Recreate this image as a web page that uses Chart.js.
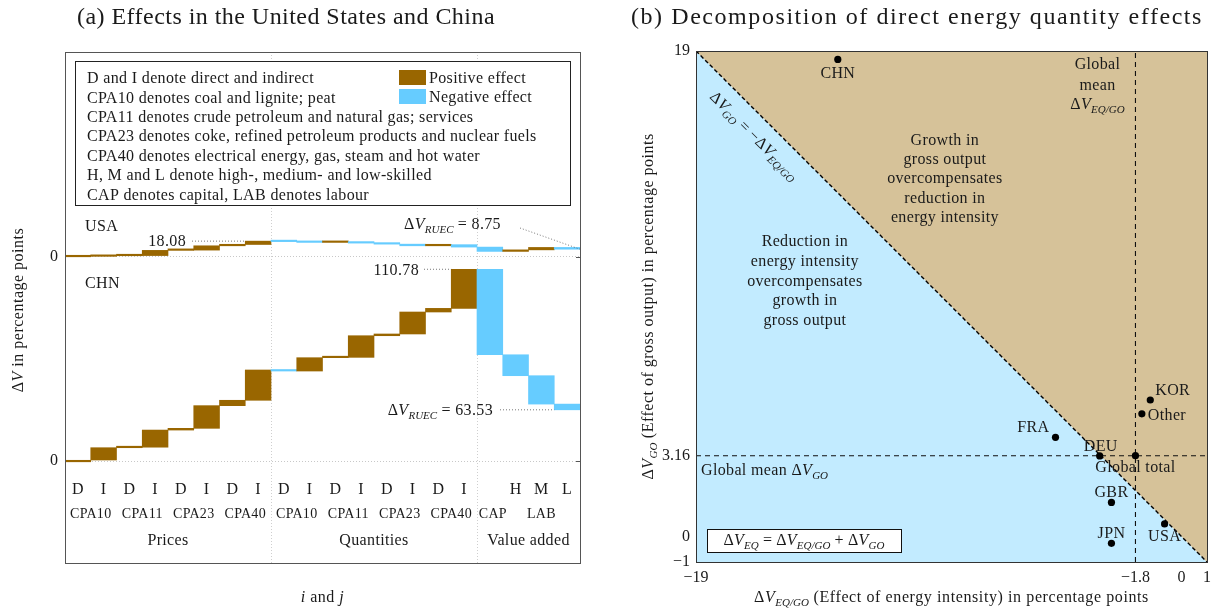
<!DOCTYPE html>
<html>
<head>
<meta charset="utf-8">
<script src="https://cdn.jsdelivr.net/npm/chart.js@4.4.0/dist/chart.umd.min.js"></script>
<style>
html,body{margin:0;padding:0;background:#fff;}
#wrap{position:relative;width:1229px;height:610px;}
#left{position:absolute;left:0;top:0;width:615px;height:610px;}
#right{position:absolute;left:615px;top:0;width:614px;height:610px;}
</style>
</head>
<body>
<div id="wrap">
  <div id="left"><canvas id="cLeft"></canvas></div>
  <div id="right"><canvas id="cRight"></canvas></div>
</div>
<script>
// ---- panel (a): waterfall data ----
const categories = ['D','I','D','I','D','I','D','I','D','I','D','I','D','I','D','I','CAP','H','M','L'];
const productLabels = ['CPA10','CPA11','CPA23','CPA40'];
const groupLabels = ['Prices','Quantities','Value added'];
// running level after each step (percentage points)
const usaLevels = [0.5,1.2,1.4,7.4,7.7,12.7,14.2,18.08,17.5,16.6,17.2,15.8,14.6,12.7,14.0,11.2,6.2,8.0,10.8,8.75];
const chnLevels = [0.6,7.7,8.0,17.9,18.9,32.0,35.1,52.6,52.0,59.7,59.9,72.4,73.4,86.1,88.2,110.78,61.4,49.3,32.9,29.6];
const usaRuec = 8.75;
const chnRuec = 63.53;
const noteLines = [
  'D and I denote direct and indirect',
  'CPA10 denotes coal and lignite; peat',
  'CPA11 denotes crude petroleum and natural gas; services',
  'CPA23 denotes coke, refined petroleum products and nuclear fuels',
  'CPA40 denotes electrical energy, gas, steam and hot water',
  'H, M and L denote high-, medium- and low-skilled',
  'CAP denotes capital, LAB denotes labour'
];

// ---- panel (b): scatter data ----
const countries = ['CHN','KOR','Other','FRA','DEU','Global total','GBR','USA','JPN'];
const energyIntensity = [-13.45,-1.22,-1.55,-4.93,-3.20,-1.8,-2.74,-0.66,-2.74];
const grossOutput = [18.67,5.34,4.80,3.88,3.15,3.16,1.33,0.49,-0.27];
const meanEqGo = -1.8;
const meanGo = 3.16;
const xTicks = [-19,-1.8,0,1];
const yTicks = [-1,0,3.16,19];

const serif = '"Liberation Serif","DejaVu Serif",serif';
const ink = '#1a1a1a';
const brown = '#996600';
const blue = '#66ccff';
const tan = 'rgb(214,194,153)';
const paleBlue = 'rgb(194,235,255)';

// USA strip sits above the CHN strip, drawn at half scale
const usaBase = 118;
const usaScale = 0.5;

function fontFor(k,size){
  if(k==='i') return 'italic '+size+'px '+serif;
  if(k==='s') return 'italic '+Math.round(size*0.7)+'px '+serif;
  return size+'px '+serif;
}
function richWidth(ctx,parts,size,ls){
  let w=0;
  for(const [t,k] of parts){
    ctx.font=fontFor(k,size); ctx.letterSpacing=(k==='s'?0:ls)+'px';
    w+=ctx.measureText(t).width;
  }
  return w;
}
// y is the vertical middle of the text
function drawRich(ctx,parts,x,y,align,size,ls){
  if(ls===undefined) ls=0.35;
  const w=richWidth(ctx,parts,size,ls);
  let cx = align==='center' ? x-w/2 : align==='right' ? x-w : x;
  const base = y+size*0.33;
  ctx.textAlign='left'; ctx.textBaseline='alphabetic'; ctx.fillStyle=ink;
  for(const [t,k] of parts){
    ctx.font=fontFor(k,size); ctx.letterSpacing=(k==='s'?0:ls)+'px';
    ctx.fillText(t,cx,k==='s'?base+size*0.22:base);
    cx+=ctx.measureText(t).width;
  }
  ctx.letterSpacing='0px';
  return w;
}
function plain(ctx,t,x,y,align,size,ls){ return drawRich(ctx,[[t,'n']],x,y,align,size,ls); }
// title text stretched to the width it takes in the original figure
function fitted(ctx,t,x,y,size,width){
  const nat=richWidth(ctx,[[t,'n']],size,0);
  return plain(ctx,t,x,y,'center',size,(width-nat)/t.length);
}
function dotted(ctx,x1,y1,x2,y2){
  ctx.save(); ctx.strokeStyle='#555'; ctx.lineWidth=0.8; ctx.setLineDash([1,2]);
  ctx.beginPath(); ctx.moveTo(x1,y1); ctx.lineTo(x2,y2); ctx.stroke(); ctx.restore();
}
function fmt(v){ return (v<0?'\u2212':'')+Math.abs(v); }

function floating(levels,base,k){
  return levels.map((v,i)=>{ const p=i?levels[i-1]:0; return [base+p*k, base+v*k]; });
}
function colours(levels){
  return levels.map((v,i)=> v >= (i?levels[i-1]:0) ? brown : blue);
}

const leftDecor = {
  id:'leftDecor',
  afterDraw(chart){
    const ctx=chart.ctx, a=chart.chartArea, x=chart.scales.x, y=chart.scales.y;
    const bw=(a.right-a.left)/categories.length;
    ctx.save();
    // frame + right-hand ticks
    ctx.strokeStyle='#555'; ctx.lineWidth=1;
    ctx.strokeRect(a.left+0.5,a.top+0.5,a.right-a.left,a.bottom-a.top);
    for(const v of [0,usaBase]){
      const py=Math.round(y.getPixelForValue(v))+0.5;
      ctx.beginPath(); ctx.moveTo(a.right-4,py); ctx.lineTo(a.right,py); ctx.stroke();
    }
    // title
    fitted(ctx,'(a) Effects in the United States and China',286,16,24,418);
    // axis titles
    ctx.save(); ctx.translate(18,310); ctx.rotate(-Math.PI/2);
    drawRich(ctx,[['\u0394','n'],['V','i'],[' in percentage points','n']],0,0,'center',16,0.5);
    ctx.restore();
    drawRich(ctx,[['i','i'],[' and ','n'],['j','i']],(a.left+a.right)/2,597,'center',16,0.5);
    // notes box
    ctx.fillStyle='#fff'; ctx.fillRect(75,61,495,144);
    ctx.strokeStyle='#222'; ctx.strokeRect(75.5,61.5,495,144);
    noteLines.forEach((t,i)=>plain(ctx,t,87,78+i*19.4,'left',16));
    ctx.fillStyle=brown; ctx.fillRect(399,70,27,15);
    ctx.fillStyle=blue; ctx.fillRect(399,89,27,15);
    plain(ctx,'Positive effect',429,78,'left',16);
    plain(ctx,'Negative effect',429,97,'left',16);
    // country names
    plain(ctx,'USA',85,226,'left',16);
    plain(ctx,'CHN',85,283,'left',16);
    // level call-outs
    const uPeak=y.getPixelForValue(usaBase+usaLevels[7]*usaScale);
    plain(ctx,String(usaLevels[7]),186,uPeak,'right',16);
    dotted(ctx,192,uPeak,x.getPixelForValue(7)-bw/2,uPeak);
    const uEnd=y.getPixelForValue(usaBase+usaLevels[19]*usaScale);
    drawRich(ctx,[['\u0394','n'],['V','i'],['RUEC','s'],[' = '+usaRuec,'n']],404,224,'left',16);
    dotted(ctx,520,228,a.right,uEnd);
    const cPeak=y.getPixelForValue(chnLevels[15]);
    plain(ctx,String(chnLevels[15]),419,cPeak,'right',16);
    dotted(ctx,424,cPeak,x.getPixelForValue(15)-bw/2,cPeak);
    const cEnd=y.getPixelForValue(chnLevels[19]);
    drawRich(ctx,[['\u0394','n'],['V','i'],['RUEC','s'],[' = '+chnRuec,'n']],493,cEnd,'right',16);
    dotted(ctx,500,cEnd,x.getPixelForValue(19)-bw/2,cEnd);
    // category labels inside the frame
    categories.forEach((c,i)=>{
      if(c==='CAP') return;
      plain(ctx,c,x.getPixelForValue(i),489,'center',16);
    });
    for(let g=0; g<2; g++){
      productLabels.forEach((p,j)=>{
        const i=g*8+j*2;
        plain(ctx,p,(x.getPixelForValue(i)+x.getPixelForValue(i+1))/2,513,'center',14,0.3);
      });
    }
    plain(ctx,'CAP',x.getPixelForValue(16)+3,513,'center',14,0.3);
    plain(ctx,'LAB',x.getPixelForValue(18),513,'center',14,0.3);
    const spans=[[0,8],[8,16],[16,20]];
    groupLabels.forEach((gl,k)=>{
      const cx=(x.getPixelForValue(spans[k][0])+x.getPixelForValue(spans[k][1]-1))/2;
      plain(ctx,gl,cx,540,'center',16);
    });
    ctx.restore();
  }
};

new Chart(document.getElementById('cLeft'),{
  type:'bar',
  data:{
    labels:categories,
    datasets:[
      {label:'USA',data:floating(usaLevels,usaBase,usaScale),backgroundColor:colours(usaLevels),
       grouped:false,barPercentage:1,categoryPercentage:1,minBarLength:1.5,borderWidth:0},
      {label:'CHN',data:floating(chnLevels,0,1),backgroundColor:colours(chnLevels),
       grouped:false,barPercentage:1,categoryPercentage:1,minBarLength:1.5,borderWidth:0}
    ]
  },
  options:{
    responsive:true,maintainAspectRatio:false,animation:false,
    layout:{padding:{left:0,right:35,top:52,bottom:0}},
    plugins:{legend:{display:false},tooltip:{enabled:false}},
    scales:{
      x:{
        ticks:{display:false},
        grid:{offset:true,drawTicks:false,lineWidth:1,
          color:c=>(c.index===8||c.index===16)?'#cfcfcf':'transparent'},
        border:{display:false,dash:[1,2]},
        afterFit:s=>{s.height=47;}
      },
      y:{
        min:-58.9,max:236.3,
        afterBuildTicks:s=>{s.ticks=[{value:0},{value:usaBase}];},
        ticks:{callback:()=>'0',font:{family:serif,size:16},color:ink,padding:7},
        grid:{drawTicks:false,color:'#c8c8c8'},
        border:{display:false,dash:[1,2]},
        afterFit:s=>{s.width=65;}
      }
    }
  },
  plugins:[leftDecor]
});

// ---- panel (b) ----
const labelPlace = {
  'CHN':[0,13,'center'],'KOR':[5,-10,'left'],'Other':[6,1,'left'],'FRA':[-6,-11,'right'],
  'DEU':[1,-10,'center'],'Global total':[0,11,'center'],'GBR':[0,-11,'center'],
  'USA':[0,12,'center'],'JPN':[0,-11,'center']
};

const rightDecor = {
  id:'rightDecor',
  afterDraw(chart){
    const ctx=chart.ctx, a=chart.chartArea, x=chart.scales.x, y=chart.scales.y;
    ctx.save();
    ctx.strokeStyle='#333'; ctx.lineWidth=1;
    ctx.strokeRect(a.left+0.5,a.top+0.5,a.right-a.left,a.bottom-a.top);
    fitted(ctx,'(b) Decomposition of direct energy quantity effects',302,16,24,572);
    // axis titles
    ctx.save(); ctx.translate(33,(a.top+a.bottom)/2); ctx.rotate(-Math.PI/2);
    drawRich(ctx,[['\u0394','n'],['V','i'],['GO','s'],[' (Effect of gross output) in percentage points','n']],0,0,'center',16,0.5);
    ctx.restore();
    drawRich(ctx,[['\u0394','n'],['V','i'],['EQ/GO','s'],[' (Effect of energy intensity) in percentage points','n']],
      (a.left+a.right)/2,597,'center',16,0.6);
    // region notes
    ['Growth in','gross output','overcompensates','reduction in','energy intensity'].forEach((t,i)=>
      plain(ctx,t,x.getPixelForValue(-9.26),y.getPixelForValue(15.54)+i*19.3,'center',16));
    ['Reduction in','energy intensity','overcompensates','growth in','gross output'].forEach((t,i)=>
      plain(ctx,t,x.getPixelForValue(-14.74),y.getPixelForValue(11.56)+i*19.6,'center',16));
    // diagonal label, set just below the line
    ctx.save();
    ctx.translate(x.getPixelForValue(-16.2)-13,y.getPixelForValue(16.2)+13);
    ctx.rotate(Math.PI/4);
    drawRich(ctx,[['\u0394','n'],['V','i'],['GO','s'],[' = \u2212\u0394','n'],['V','i'],['EQ/GO','s']],0,0,'center',16);
    ctx.restore();
    // mean labels
    const mx=x.getPixelForValue(meanEqGo)-38;
    plain(ctx,'Global',mx,64,'center',16);
    plain(ctx,'mean',mx,85,'center',16);
    drawRich(ctx,[['\u0394','n'],['V','i'],['EQ/GO','s']],mx,104,'center',16);
    drawRich(ctx,[['Global mean \u0394','n'],['V','i'],['GO','s']],a.left+5,y.getPixelForValue(meanGo)+14,'left',16);
    // equation box
    const bx=a.left+11, by=a.bottom-33;
    ctx.fillStyle='#fff'; ctx.fillRect(bx,by,194,23);
    ctx.strokeStyle='#111'; ctx.strokeRect(bx+0.5,by+0.5,194,23);
    drawRich(ctx,[['\u0394','n'],['V','i'],['EQ','s'],[' = \u0394','n'],['V','i'],['EQ/GO','s'],[' + \u0394','n'],['V','i'],['GO','s']],
      bx+97,by+11,'center',16,0.2);
    // point labels
    countries.forEach((c,i)=>{
      const p=labelPlace[c];
      plain(ctx,c,x.getPixelForValue(energyIntensity[i])+p[0],y.getPixelForValue(grossOutput[i])+p[1],p[2],16);
    });
    ctx.restore();
  }
};

new Chart(document.getElementById('cRight'),{
  type:'scatter',
  data:{
    datasets:[
      {label:'countries',data:countries.map((c,i)=>({x:energyIntensity[i],y:grossOutput[i]})),
       backgroundColor:'#000',borderWidth:0,pointRadius:3.6,order:0},
      {type:'line',label:'mean EQ/GO',data:[{x:meanEqGo,y:yTicks[0]},{x:meanEqGo,y:yTicks[3]}],
       borderColor:'#111',borderWidth:1.1,borderDash:[5,4],pointRadius:0,fill:false,order:1},
      {type:'line',label:'mean GO',data:[{x:xTicks[0],y:meanGo},{x:xTicks[3],y:meanGo}],
       borderColor:'#111',borderWidth:1.1,borderDash:[5,4],pointRadius:0,fill:false,order:1},
      {type:'line',label:'growth side',data:[{x:xTicks[0],y:yTicks[3]},{x:xTicks[3],y:yTicks[0]}],
       borderColor:'#000',borderWidth:1.4,borderDash:[4,2.5],backgroundColor:tan,fill:'end',pointRadius:0,order:2},
      {type:'line',label:'reduction side',data:[{x:xTicks[0],y:yTicks[3]},{x:xTicks[3],y:yTicks[0]}],
       borderWidth:0,borderColor:'transparent',backgroundColor:paleBlue,fill:'start',pointRadius:0,order:3}
    ]
  },
  options:{
    responsive:true,maintainAspectRatio:false,animation:false,
    layout:{padding:{left:0,right:22,top:51,bottom:0}},
    plugins:{legend:{display:false},tooltip:{enabled:false}},
    scales:{
      x:{
        type:'linear',min:-19,max:1,z:1,
        afterBuildTicks:s=>{s.ticks=xTicks.map(v=>({value:v}));},
        ticks:{callback:v=>fmt(v),font:{family:serif,size:16},color:ink,padding:6,maxRotation:0,autoSkip:false},
        grid:{drawTicks:false,color:c=>(c.tick&&c.tick.value===0)?'#a8a8a8':'transparent'},
        border:{display:false,dash:[1,2]},
        afterFit:s=>{s.height=48;}
      },
      y:{
        type:'linear',min:-1,max:19,z:1,
        afterBuildTicks:s=>{s.ticks=yTicks.map(v=>({value:v}));},
        ticks:{callback:v=>fmt(v),font:{family:serif,size:16},color:ink,padding:6,autoSkip:false},
        grid:{drawTicks:false,color:c=>(c.tick&&c.tick.value===0)?'#a8a8a8':'transparent'},
        border:{display:false,dash:[1,2]},
        afterFit:s=>{s.width=81;}
      }
    }
  },
  plugins:[rightDecor]
});
</script>
</body>
</html>
